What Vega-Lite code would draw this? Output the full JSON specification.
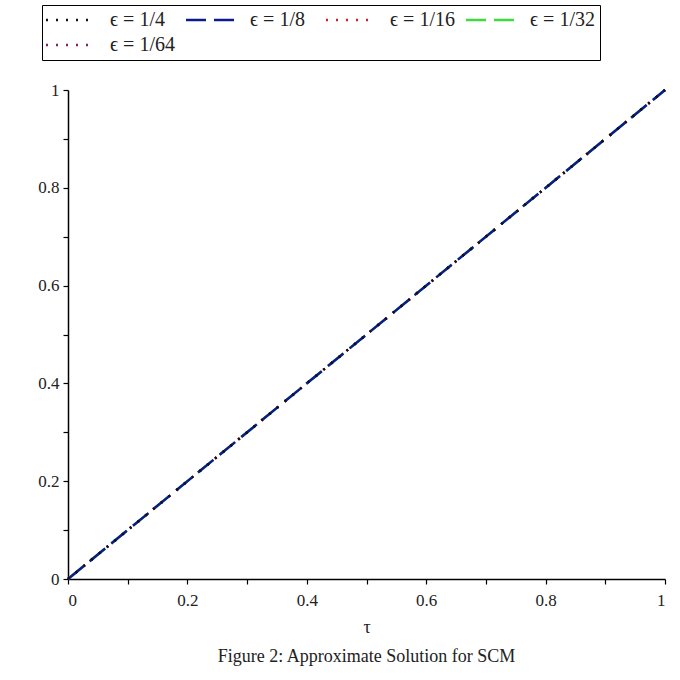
{
  "$schema": "https://vega.github.io/schema/vega-lite/v6.json",
  "autosize": {"type": "none"},
  "width": 597,
  "height": 489,
  "padding": {"left": 68, "top": 90, "right": 15, "bottom": 101},
  "background": "white",
  "config": {
    "view": {"stroke": null},
    "font": "Liberation Serif",
    "axis": {
      "domainColor": "black",
      "domainWidth": 1.5,
      "tickColor": "black",
      "tickWidth": 1.2,
      "tickSize": 5,
      "labelColor": "#222",
      "labelFont": "Liberation Serif",
      "labelFontSize": 17,
      "titleFont": "Liberation Serif",
      "titleFontWeight": "normal",
      "titleFontSize": 18,
      "titleColor": "#222",
      "grid": false
    }
  },
  "title": {
    "text": "Figure 2: Approximate Solution for SCM",
    "orient": "bottom",
    "font": "Liberation Serif",
    "fontSize": 18,
    "fontWeight": "normal",
    "color": "#222",
    "offset": 12
  },
  "data": {
    "values": [
      {"tau": 0, "u": 0, "eps": "ϵ = 1/32"},
      {"tau": 0.25, "u": 0.25, "eps": "ϵ = 1/32"},
      {"tau": 0.5, "u": 0.5, "eps": "ϵ = 1/32"},
      {"tau": 0.75, "u": 0.75, "eps": "ϵ = 1/32"},
      {"tau": 1, "u": 1, "eps": "ϵ = 1/32"},
      {"tau": 0, "u": 0, "eps": "ϵ = 1/16"},
      {"tau": 0.25, "u": 0.25, "eps": "ϵ = 1/16"},
      {"tau": 0.5, "u": 0.5, "eps": "ϵ = 1/16"},
      {"tau": 0.75, "u": 0.75, "eps": "ϵ = 1/16"},
      {"tau": 1, "u": 1, "eps": "ϵ = 1/16"},
      {"tau": 0, "u": 0, "eps": "ϵ = 1/64"},
      {"tau": 0.25, "u": 0.25, "eps": "ϵ = 1/64"},
      {"tau": 0.5, "u": 0.5, "eps": "ϵ = 1/64"},
      {"tau": 0.75, "u": 0.75, "eps": "ϵ = 1/64"},
      {"tau": 1, "u": 1, "eps": "ϵ = 1/64"},
      {"tau": 0, "u": 0, "eps": "ϵ = 1/8"},
      {"tau": 0.25, "u": 0.25, "eps": "ϵ = 1/8"},
      {"tau": 0.5, "u": 0.5, "eps": "ϵ = 1/8"},
      {"tau": 0.75, "u": 0.75, "eps": "ϵ = 1/8"},
      {"tau": 1, "u": 1, "eps": "ϵ = 1/8"},
      {"tau": 0, "u": 0, "eps": "ϵ = 1/4"},
      {"tau": 0.25, "u": 0.25, "eps": "ϵ = 1/4"},
      {"tau": 0.5, "u": 0.5, "eps": "ϵ = 1/4"},
      {"tau": 0.75, "u": 0.75, "eps": "ϵ = 1/4"},
      {"tau": 1, "u": 1, "eps": "ϵ = 1/4"}
    ]
  },
  "mark": {"type": "line", "strokeWidth": 2.5, "clip": false},
  "encoding": {
    "x": {
      "field": "tau",
      "type": "quantitative",
      "scale": {"domain": [0, 1], "nice": false, "zero": false},
      "axis": {
        "title": "τ",
        "values": [0, 0.1, 0.2, 0.3, 0.4, 0.5, 0.6, 0.7, 0.8, 0.9, 1],
        "format": "~g",
        "labelExpr": "round(datum.value * 10) % 2 == 0 ? datum.label : ''",
        "labelPadding": 8,
        "titlePadding": 10
      }
    },
    "y": {
      "field": "u",
      "type": "quantitative",
      "scale": {"domain": [0, 1], "nice": false, "zero": false},
      "axis": {
        "title": null,
        "values": [0, 0.1, 0.2, 0.3, 0.4, 0.5, 0.6, 0.7, 0.8, 0.9, 1],
        "format": "~g",
        "labelExpr": "round(datum.value * 10) % 2 == 0 ? datum.label : ''",
        "labelPadding": 4
      }
    },
    "color": {
      "field": "eps",
      "type": "nominal",
      "scale": {
        "domain": ["ϵ = 1/4", "ϵ = 1/8", "ϵ = 1/16", "ϵ = 1/32", "ϵ = 1/64"],
        "range": ["#111111", "#0c1a8f", "#d0202a", "#3ddc3d", "#8a1f5e"]
      },
      "legend": {
        "title": null,
        "orient": "none",
        "legendX": -26,
        "legendY": -85,
        "direction": "horizontal",
        "columns": 4,
        "gridAlign": "all",
        "columnPadding": 6,
        "rowPadding": 5,
        "symbolType": "M-5,0H5",
        "symbolSize": 100,
        "symbolOffset": 14,
        "symbolStrokeWidth": 2.5,
        "labelFont": "Liberation Serif",
        "labelFontSize": 20,
        "labelColor": "#222",
        "labelOffset": 29,
        "labelLimit": 90,
        "strokeColor": "black",
        "padding": 5,
        "fillColor": "white"
      }
    },
    "strokeDash": {
      "field": "eps",
      "type": "nominal",
      "scale": {
        "domain": ["ϵ = 1/4", "ϵ = 1/8", "ϵ = 1/16", "ϵ = 1/32", "ϵ = 1/64"],
        "range": [[2, 8], [20, 8], [2, 8], [20, 8], [2, 8]]
      },
      "legend": null
    }
  }
}
